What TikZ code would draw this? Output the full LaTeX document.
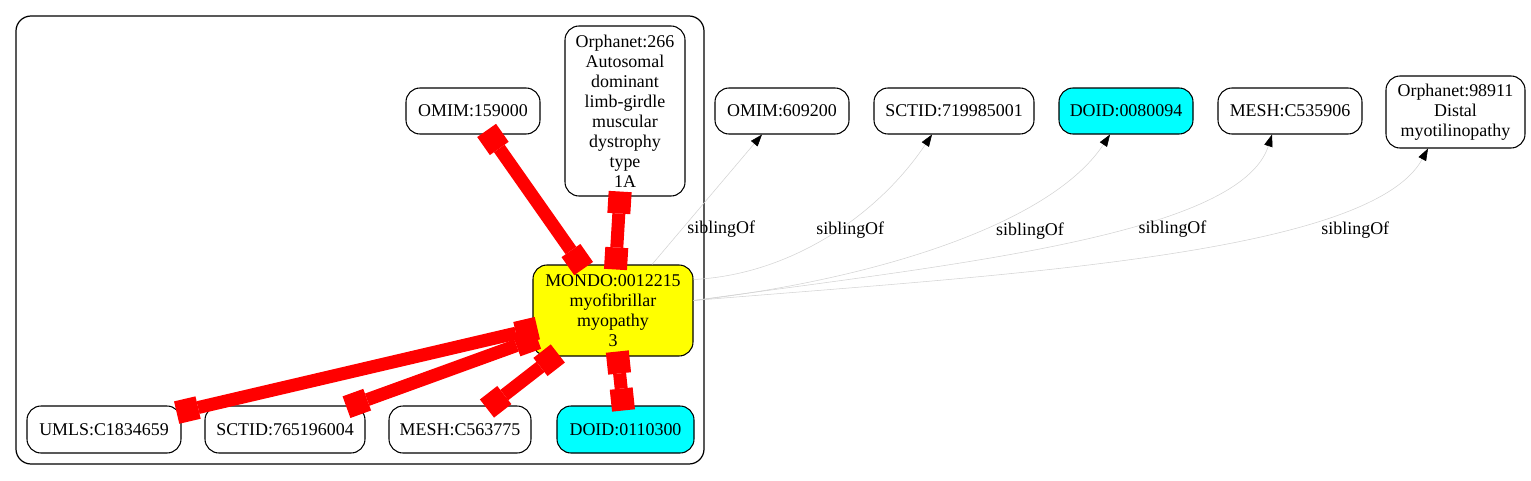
\documentclass[tikz,border=0pt]{standalone}
\usepackage{fontspec}
\setmainfont{Liberation Serif}
\usepackage{xcolor}
\usepackage{tikz}
\usetikzlibrary{arrows.meta}
\definecolor{selfill}{HTML}{FFFF00}
\definecolor{doidfill}{HTML}{00FFFF}
\definecolor{xref}{HTML}{FF0000}
\definecolor{sibgray}{HTML}{D3D3D3}
\tikzset{
  box/.style={draw=black, line width=0.6pt, rounded corners=0.28cm, fill=white, inner sep=0pt, minimum height=0.92cm, align=center, font=\fontsize{10.2}{11.4}\selectfont},
  self/.style={box, fill=selfill},
  doid/.style={box, fill=doidfill},
  cluster/.style={draw=black, line width=0.7pt, rounded corners=0.3cm},
  xedge/.style={draw=xref, line width=0.26cm, {Square[length=0.44cm,width=0.46cm,line width=0pt]}-{Square[length=0.44cm,width=0.46cm,line width=0pt]}, shorten <=-0.1cm, shorten >=-0.1cm},
  sibedge/.style={draw=sibgray, line width=0.3pt, -{Triangle[length=0.24cm,width=0.17cm,color=black]}},
  lab/.style={font=\fontsize{10.2}{11.4}\selectfont, inner sep=0pt},
}
\begin{document}
\begin{tikzpicture}
  \fill[white] (0,0) rectangle (30.62,9.6);
  \useasboundingbox (0,0) rectangle (30.62,9.6);
  \draw[cluster] (0.32,0.32) rectangle (14.08,9.28);
  \node[self, minimum width=3.2cm, minimum height=1.82cm] (mondo) at (12.26,3.39) {MONDO:0012215\\myofibrillar\\myopathy\\3};
  \node[box, minimum width=2.68cm] (omimA) at (9.46,7.38) {OMIM:159000};
  \node[box, minimum width=2.4cm, minimum height=3.4cm] (orphA) at (12.5,7.38) {Orphanet:266\\Autosomal\\dominant\\limb-girdle\\muscular\\dystrophy\\type\\1A};
  \node[box, minimum width=3.08cm, minimum height=0.94cm] (umls) at (2.08,1.01) {UMLS:C1834659};
  \node[box, minimum width=3.2cm, minimum height=0.94cm] (sctA) at (5.7,1.01) {SCTID:765196004};
  \node[box, minimum width=2.84cm, minimum height=0.94cm] (meshA) at (9.2,1.01) {MESH:C563775};
  \node[doid, minimum width=2.74cm, minimum height=0.94cm] (doidA) at (12.51,1.01) {DOID:0110300};
  \node[box, minimum width=2.68cm] (omimB) at (15.64,7.38) {OMIM:609200};
  \node[box, minimum width=3.2cm] (sctB) at (19.08,7.38) {SCTID:719985001};
  \node[doid, minimum width=2.68cm] (doidB) at (22.52,7.38) {DOID:0080094};
  \node[box, minimum width=2.88cm] (meshB) at (25.8,7.38) {MESH:C535906};
  \node[box, minimum width=2.78cm, minimum height=1.44cm] (orphB) at (29.11,7.36) {Orphanet:98911\\Distal\\myotilinopathy};
  \foreach \n in {omimA,orphA,umls,sctA,meshA,doidA} {\draw[xedge] (\n) -- (mondo);}
  \draw[sibedge] ([xshift=0.78cm]mondo.north) -- ([xshift=-0.4cm]omimB.south) node[lab, pos=0.27, xshift=0.79cm] {siblingOf};
  \draw[sibedge] ([yshift=0.62cm]mondo.east) .. controls +(2.0,0.1) and +(-1.04,-1.56) .. ([xshift=-0.44cm]sctB.south) node[lab, pos=0.5, xshift=0.39cm, yshift=0.08cm] {siblingOf};
  \draw[sibedge] ([yshift=0.2cm]mondo.east) .. controls +(3.54,0.41) and +(-1.2,-1.82) .. ([xshift=-0.32cm]doidB.south) node[lab, pos=0.7, xshift=0.06cm, yshift=-0.48cm] {siblingOf};
  \draw[sibedge] ([yshift=0.2cm]mondo.east) .. controls +(5.14,0.71) and +(-0.64,-2.02) .. ([xshift=-0.36cm]meshB.south) node[lab, pos=0.7, xshift=-0.18cm, yshift=-0.42cm] {siblingOf};
  \draw[sibedge] ([yshift=0.2cm]mondo.east) .. controls +(6.14,0.51) and +(-1.16,-2.14) .. ([xshift=-0.55cm]orphB.south) node[lab, pos=0.8, xshift=-0.07cm, yshift=-0.55cm] {siblingOf};
\end{tikzpicture}
\end{document}
